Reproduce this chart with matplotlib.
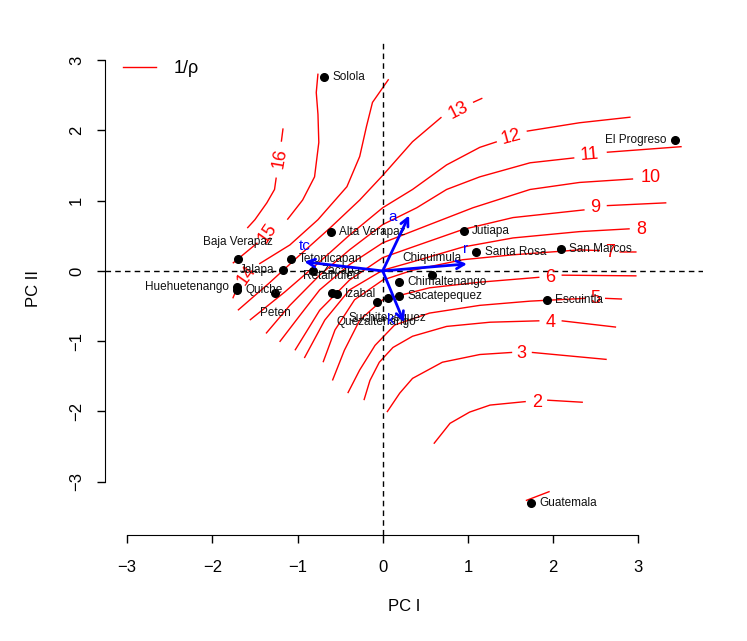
import numpy as np
import matplotlib
matplotlib.use("Agg")
import matplotlib.pyplot as plt

plt.rcParams['font.family'] = ['Liberation Sans', 'DejaVu Sans']

# departments: scores on PC I / PC II
names = ["Solola", "Alta Verapaz", "Baja Verapaz", "Tetonicapan", "Jalapa", "Zacapa",
         "Huehuetenango", "Quiche", "Peten", "Retalhuleu", "Izabal", "Chiquimula",
         "Chimaltenango", "Sacatepequez", "Suchitepequez", "Quezaltenango", "Jutiapa",
         "Santa Rosa", "San Marcos", "El Progreso", "Escuintla", "Guatemala"]
pc1 = [-0.69, -0.61, -1.70, -1.08, -1.17, -0.82, -1.71, -1.71, -1.26, -0.60, -0.54, 0.58,
       0.19, 0.19, 0.06, -0.07, 0.95, 1.10, 2.09, 3.43, 1.93, 1.74]
pc2 = [2.76, 0.56, 0.17, 0.17, 0.01, 0.00, -0.23, -0.27, -0.31, -0.31, -0.33, -0.06,
       -0.16, -0.36, -0.39, -0.44, 0.57, 0.27, 0.31, 1.86, -0.41, -3.31]
# R text() pos: 1 below, 2 left, 3 above, 4 right
label_pos = [4, 4, 3, 4, 2, 4, 2, 4, 1, 3, 4, 3, 4, 4, 1, 1, 4, 4, 4, 2, 4, 4]

# variable loadings
var_names = ["a", "tc", "r", "k"]
var_x = [0.31, -0.92, 0.99, 0.25]
var_y = [0.79, 0.13, 0.10, -0.73]
var_lab_x = [0.12, -0.92, 0.97, 0.09]
var_lab_y = [0.77, 0.36, 0.31, -0.70]

# contour lines of 1/rho (None = gap where the label sits)
c1 = [(1.68, -3.27), (1.96, -3.14)]
c2 = [(2.35, -1.87), (1.93, -1.84), None, (1.68, -1.86), (1.26, -1.91), (1.02, -2.01),
      (0.79, -2.17), (0.60, -2.46)]
c3 = [(2.63, -1.26), (1.75, -1.16), None, (1.52, -1.16), (1.14, -1.19), (0.70, -1.30),
      (0.35, -1.53), (0.20, -1.74), (0.05, -2.01)]
c4 = [(2.74, -0.80), (2.10, -0.71), None, (1.84, -0.71), (1.26, -0.73), (0.75, -0.79),
      (0.35, -0.93), (0.12, -1.09), (-0.04, -1.30), (-0.15, -1.56), (-0.22, -1.84)]
c5 = [(2.81, -0.40), (2.61, -0.39), None, (2.38, -0.39), (1.73, -0.43), (1.14, -0.49),
      (0.55, -0.60), (0.14, -0.77), (-0.09, -1.06), (-0.27, -1.41), (-0.41, -1.74)]
c6 = [(2.98, -0.07), (2.10, -0.06), None, (1.84, -0.09), (1.14, -0.16), (0.55, -0.24),
      (0.00, -0.41), (-0.27, -0.70), (-0.45, -1.13), (-0.59, -1.56)]
c7 = [(2.98, 0.27), (2.78, 0.27), None, (2.55, 0.29), (2.31, 0.30), (1.53, 0.23),
      (0.94, 0.16), (0.35, 0.01), (0.00, -0.13), (-0.33, -0.41), (-0.56, -0.84), (-0.70, -1.30)]
c8 = [(2.90, 0.60), (2.31, 0.56), (1.53, 0.47), (0.94, 0.34), (0.35, 0.13), (0.00, 0.01),
      (-0.39, -0.27), (-0.68, -0.70), (-0.92, -1.24)]
c9 = [(3.33, 0.97), (2.63, 0.93), None, (2.37, 0.87), (1.53, 0.76), (0.94, 0.59),
      (0.35, 0.34), (0.00, 0.19), (-0.39, -0.13), (-0.74, -0.56), (-1.03, -1.13)]
c10 = [(2.94, 1.31), (2.31, 1.26), (1.73, 1.16), (1.06, 0.90), (0.55, 0.66), (0.00, 0.40),
       (-0.39, 0.09), (-0.74, -0.27), (-0.97, -0.63), (-1.21, -1.01)]
c11 = [(3.51, 1.77), (2.63, 1.69), None, (2.25, 1.61), (1.73, 1.54), (1.14, 1.34),
       (0.75, 1.16), (0.40, 0.90), (0.00, 0.66), (-0.39, 0.30), (-0.74, -0.06),
       (-1.09, -0.49), (-1.37, -0.89)]
c12 = [(2.91, 2.19), (2.31, 2.11), (1.69, 1.99), None, (1.34, 1.84), (1.14, 1.76),
       (0.75, 1.51), (0.35, 1.16), (0.00, 0.90), (-0.39, 0.51), (-0.74, 0.13),
       (-1.15, -0.30), (-1.56, -0.70)]
c13 = [(1.17, 2.46), (1.06, 2.40), None, (0.69, 2.19), (0.35, 1.84), (0.00, 1.36),
       (-0.27, 1.01), (-0.62, 0.61), (-0.97, 0.23), (-1.33, -0.17), (-1.70, -0.56)]
c14 = [(0.07, 2.73), (-0.12, 2.40), (-0.19, 2.06), (-0.27, 1.63), (-0.42, 1.20),
       (-0.76, 0.73), (-1.09, 0.37), (-1.45, 0.10), None, (-1.70, -0.22), (-1.76, -0.39)]
c15 = [(-0.76, 2.81), (-0.78, 2.54), (-0.76, 2.23), (-0.75, 1.83), (-0.80, 1.34),
       (-0.94, 1.01), (-1.12, 0.73), None, (-1.47, 0.40), (-1.76, 0.11)]
c16 = [(-1.17, 2.03), (-1.19, 1.84), None, (-1.25, 1.33), (-1.27, 1.16), (-1.36, 0.97),
       (-1.50, 0.73), (-1.59, 0.61)]
contours = [c1, c2, c3, c4, c5, c6, c7, c8, c9, c10, c11, c12, c13, c14, c15, c16]

levels = [2, 3, 4, 5, 6, 7, 8, 9, 10, 11, 12, 13, 14, 15, 16]
level_x = [1.81, 1.63, 1.97, 2.50, 1.97, 2.67, 3.03, 2.50, 3.15, 2.43, 1.51, 0.89, -1.60, -1.35, -1.21]
level_y = [-1.87, -1.17, -0.73, -0.39, -0.09, 0.26, 0.59, 0.90, 1.33, 1.66, 1.90, 2.29, -0.06, 0.54, 1.61]
level_rot = [0, 0, 0, 0, 0, 0, 0, 0, 0, 5, 15, 27, 55, 55, 80]

fig = plt.figure(figsize=(7.47, 6.41), dpi=100)
ax = fig.add_axes([105 / 747, 1 - 535 / 641, 598 / 747, 493 / 641])
ax.set_xlim(-3.26, 3.76)
ax.set_ylim(-3.76, 3.26)

for c in contours:
    xs = [np.nan if p is None else p[0] for p in c]
    ys = [np.nan if p is None else p[1] for p in c]
    ax.plot(xs, ys, color='red', lw=1, solid_capstyle='butt')
ax.plot([], [], color='red', lw=1, label='1/ρ')
for lv, lx, ly, lr in zip(levels, level_x, level_y, level_rot):
    ax.text(lx, ly, str(lv), color='red', fontsize=13, rotation=lr,
            ha='center', va='center', rotation_mode='anchor')

ax.axhline(0, color='black', lw=1, ls=(0, (4, 3)))
ax.axvline(0, color='black', lw=1, ls=(0, (4, 3)))

ax.plot(pc1, pc2, 'o', color='black', ms=5.5)
offsets = {1: (0, -10, 'center', 'top'), 2: (-6, 0, 'right', 'center'),
           3: (0, 8, 'center', 'bottom'), 4: (6, 0, 'left', 'center')}
for n, x, y, p in zip(names, pc1, pc2, label_pos):
    dx, dy, ha, va = offsets[p]
    ax.annotate(n, (x, y), xytext=(dx, dy), textcoords='offset points',
                ha=ha, va=va, fontsize=8.5, color='#111111')

for vx, vy, lx, ly, vn in zip(var_x, var_y, var_lab_x, var_lab_y, var_names):
    ax.annotate('', xy=(vx, vy), xytext=(0, 0),
                arrowprops=dict(arrowstyle='->', color='blue', lw=2,
                                mutation_scale=14, shrinkA=0, shrinkB=0))
    ax.text(lx, ly, vn, color='blue', fontsize=11, ha='center', va='center')

for s in ['top', 'right']:
    ax.spines[s].set_visible(False)
ax.spines['left'].set_bounds(-3, 3)
ax.spines['bottom'].set_bounds(-3, 3)
ax.set_xticks([-3, -2, -1, 0, 1, 2, 3])
ax.set_yticks([-3, -2, -1, 0, 1, 2, 3])
ax.tick_params(direction='out', length=6, width=1, labelsize=12)
ax.tick_params(axis='x', pad=12)
ax.tick_params(axis='y', pad=9)
for t in ax.get_yticklabels():
    t.set_rotation(90)
    t.set_va('center')
ax.text(0.5, -0.146, 'PC I', transform=ax.transAxes, ha='center', va='center', fontsize=12)
ax.text(-0.120, 0.5, 'PC II', transform=ax.transAxes, ha='center', va='center',
        fontsize=12, rotation=90)

ax.legend(loc='upper left', bbox_to_anchor=(0.0, 1.0), frameon=False, fontsize=13,
          handlelength=1.8, handletextpad=1.0, borderaxespad=0.6)

fig.savefig('out.png', dpi=100)
